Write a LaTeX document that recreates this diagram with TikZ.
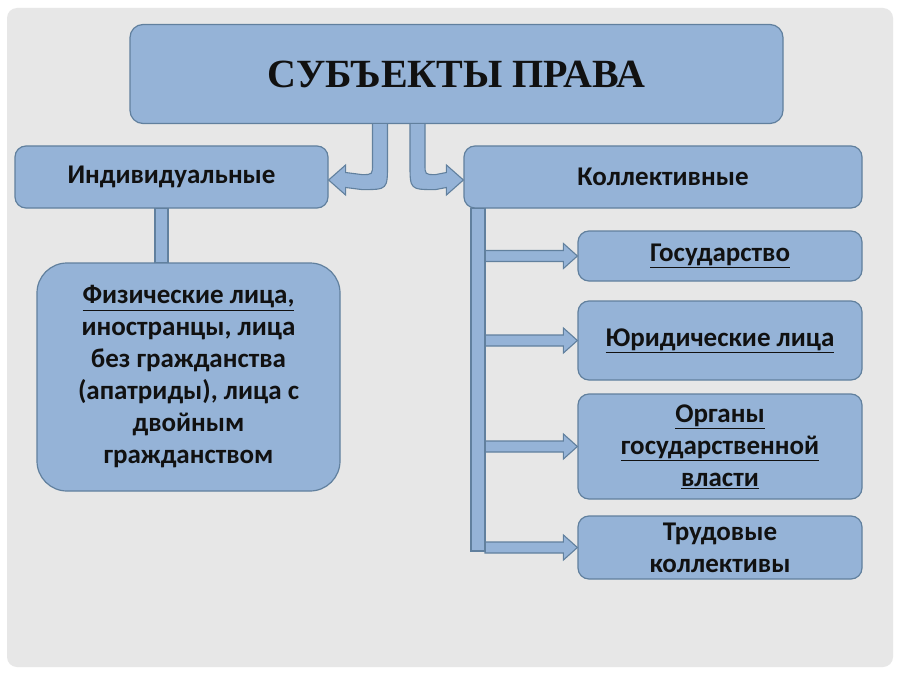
\documentclass[tikz,border=0pt]{standalone}
\usepackage{fontspec}
\setmainfont{Carlito}
\newfontfamily\titlefont{Liberation Serif}
\usetikzlibrary{calc}
\definecolor{boxfill}{HTML}{95B3D7}
\definecolor{boxedge}{HTML}{61809E}
\definecolor{bgc}{HTML}{E7E7E7}
\definecolor{txt}{HTML}{111111}
\tikzset{
  box/.style={draw=boxedge, line width=1.2pt, fill=boxfill, rounded corners=11pt, text=txt,
    font=\fontsize{27}{32}\selectfont\bfseries, align=center, inner sep=0pt},
  barstyle/.style={draw=boxedge, line width=1.1pt, fill=boxfill},
}
\newcommand\blockarrow[2]{%
  \draw[barstyle] ($(#1)+(0,5.5)$) -- ($(#2)+(-14,5.5)$) -- ($(#2)+(-14,12.5)$) -- (#2)
    -- ($(#2)+(-14,-12.5)$) -- ($(#2)+(-14,-5.5)$) -- ($(#1)+(0,-5.5)$) -- cycle;}
\begin{document}
\begin{tikzpicture}[x=1pt,y=-1pt]
\fill[white] (0,0) rectangle (900,674);
\useasboundingbox (0,0) rectangle (900,674);
\fill[bgc, rounded corners=10pt] (7,8) rectangle (893,667);

% boxes
\node[box, minimum width=653pt, minimum height=99pt, rounded corners=13pt,
  font=\titlefont\fontsize{40}{46}\selectfont\bfseries] (title) at (456.5,74) {СУБЪЕКТЫ ПРАВА};
\node[box, minimum width=313pt, minimum height=62pt] (ind) at (171.5,177) {Индивидуальные};
\node[box, minimum width=398pt, minimum height=62pt] (koll) at (663,177) {Коллективные};
\node[box, minimum width=303pt, minimum height=228pt, rounded corners=30pt] (phys) at (188.5,377)
  {\underline{Физические лица,}\\иностранцы, лица\\без гражданства\\(апатриды), лица с\\двойным\\гражданством};
\node[box, minimum width=284pt, minimum height=50pt] (gos) at (720,256) {\underline{Государство}};
\node[box, minimum width=284pt, minimum height=79pt] (jur) at (720,340.5) {\underline{Юридические лица}};
\node[box, minimum width=284pt, minimum height=105pt] (org) at (720,446.5)
  {\underline{Органы}\\\underline{государственной}\\\underline{власти}};
\node[box, minimum width=284pt, minimum height=63pt] (trud) at (720,547.5) {Трудовые\\коллективы};

% left connector
\coordinate (lx) at (161.5,0);
\path (ind.south -| lx) coordinate (l1) (phys.north -| lx) coordinate (l2);
\draw[barstyle] ($(l1)+(-6.5,0)$) rectangle ($(l2)+(6.5,0)$);

% right trunk
\coordinate (tx) at (478,0);
\coordinate (tend) at (478,551);
\path (koll.south -| tx) coordinate (t1);
\coordinate (tr) at (485,0);
\blockarrow{gos.west -| tr}{gos.west}
\blockarrow{jur.west -| tr}{jur.west}
\blockarrow{org.west -| tr}{org.west}
\blockarrow{$(trud.west -| tr)+(0,0)$}{trud.west}
\draw[barstyle] ($(t1)+(-7,0)$) rectangle ($(tend)+(7,0)$);

% bent arrows from title
\coordinate (ax) at (380,0);
\path (title.south -| ax) coordinate (a0);
\coordinate (ay) at (0,180);
\path (ind.east |- ay) coordinate (a1);
\draw[barstyle] ($(a0)+(-7.5,0)$) -- ($(a0)+(-7.5,40)$) .. controls ($(a0)+(-7.5,50.5)$) .. ($(a0)+(-18,50.5)$)
  -- ($(a1)+(17,-7.5)$) -- ($(a1)+(17,-15)$) -- (a1) -- ($(a1)+(17,15)$) -- ($(a1)+(17,7.5)$)
  -- ($(a0)+(-18,65.5)$) .. controls ($(a0)+(7.5,65.5)$) .. ($(a0)+(7.5,40)$) -- ($(a0)+(7.5,0)$);
\coordinate (bx) at (417.5,0);
\path (title.south -| bx) coordinate (b0);
\path (koll.west |- ay) coordinate (b1);
\draw[barstyle] ($(b0)+(7.5,0)$) -- ($(b0)+(7.5,40)$) .. controls ($(b0)+(7.5,50.5)$) .. ($(b0)+(18,50.5)$)
  -- ($(b1)+(-17,-7.5)$) -- ($(b1)+(-17,-15)$) -- (b1) -- ($(b1)+(-17,15)$) -- ($(b1)+(-17,7.5)$)
  -- ($(b0)+(18,65.5)$) .. controls ($(b0)+(-7.5,65.5)$) .. ($(b0)+(-7.5,40)$) -- ($(b0)+(-7.5,0)$);
\end{tikzpicture}
\end{document}
